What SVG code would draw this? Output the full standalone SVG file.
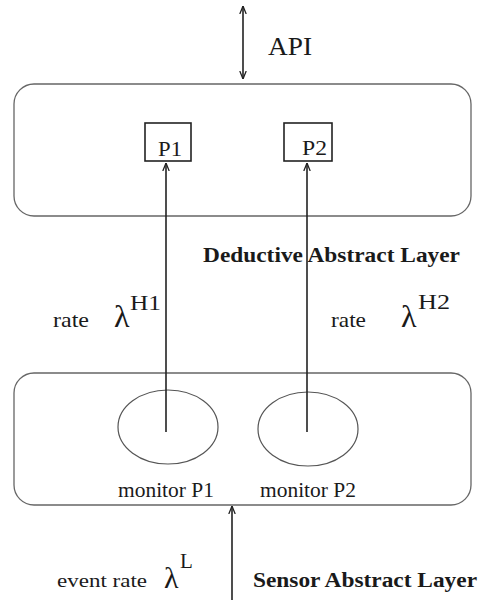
<svg xmlns="http://www.w3.org/2000/svg" width="479" height="600" viewBox="0 0 479 600">
<style>
.layer{fill:none;stroke:#666;stroke-width:1.3}
.box{fill:none;stroke:#222;stroke-width:1.6}
.ell{fill:none;stroke:#555;stroke-width:1.2}
.conn{stroke:#222;stroke-width:1.6;fill:none}
text{font-family:"Liberation Serif","Times New Roman",serif;fill:#1a1a1a}
.b{font-weight:bold}
</style>
<defs>
<marker id="ah" viewBox="0 0 10 10" refX="10" refY="5" markerWidth="8" markerHeight="8" markerUnits="userSpaceOnUse" orient="auto-start-reverse">
<path d="M0,1 L10,5 L0,9" fill="none" stroke="#222" stroke-width="1.6"/>
</marker>
</defs>
<rect width="479" height="600" fill="#fff"/>
<g id="deductive-layer">
<rect class="layer" x="14" y="84" width="457" height="132" rx="20"/>
<text class="b" x="203" y="262" font-size="21" textLength="257" lengthAdjust="spacingAndGlyphs">Deductive Abstract Layer</text>
</g>
<g id="P1">
<rect class="box" x="145" y="123" width="46" height="38"/>
<text x="158" y="156" font-size="22" textLength="24" lengthAdjust="spacingAndGlyphs">P1</text>
</g>
<g id="P2">
<rect class="box" x="284" y="123" width="48" height="38"/>
<text x="302" y="155" font-size="22" textLength="25" lengthAdjust="spacingAndGlyphs">P2</text>
</g>
<g id="sensor-layer">
<rect class="layer" x="14" y="373" width="457" height="132" rx="20"/>
</g>
<g id="monitorP1">
<ellipse class="ell" cx="168" cy="427" rx="50" ry="37"/>
<text x="166" y="497" font-size="21" text-anchor="middle" textLength="96" lengthAdjust="spacingAndGlyphs">monitor P1</text>
</g>
<g id="monitorP2">
<ellipse class="ell" cx="308" cy="429" rx="50" ry="37"/>
<text x="308" y="497" font-size="21" text-anchor="middle" textLength="96" lengthAdjust="spacingAndGlyphs">monitor P2</text>
</g>
<g id="connectors">
<line class="conn" x1="243" y1="6" x2="243" y2="79" marker-start="url(#ah)" marker-end="url(#ah)"/>
<line class="conn" x1="166" y1="432" x2="166" y2="163" marker-end="url(#ah)"/>
<line class="conn" x1="307" y1="432" x2="307" y2="163" marker-end="url(#ah)"/>
<line class="conn" x1="232" y1="600" x2="232" y2="506" marker-end="url(#ah)"/>
</g>
<g id="labels">
<text x="268" y="55" font-size="25" textLength="44" lengthAdjust="spacingAndGlyphs">API</text>
<text x="53" y="327" font-size="21" textLength="36" lengthAdjust="spacingAndGlyphs">rate</text>
<text x="114" y="327" font-size="32">λ</text>
<text x="130" y="310" font-size="21" textLength="31" lengthAdjust="spacingAndGlyphs">H1</text>
<text x="331" y="327" font-size="21" textLength="35" lengthAdjust="spacingAndGlyphs">rate</text>
<text x="401" y="327" font-size="32">λ</text>
<text x="418" y="309" font-size="21" textLength="32" lengthAdjust="spacingAndGlyphs">H2</text>
<text x="57" y="587" font-size="19" textLength="90" lengthAdjust="spacingAndGlyphs">event rate</text>
<text x="164" y="588" font-size="30">λ</text>
<text x="180" y="568" font-size="21">L</text>
<text class="b" x="253" y="587" font-size="20" textLength="224" lengthAdjust="spacingAndGlyphs">Sensor Abstract Layer</text>
</g>
</svg>
